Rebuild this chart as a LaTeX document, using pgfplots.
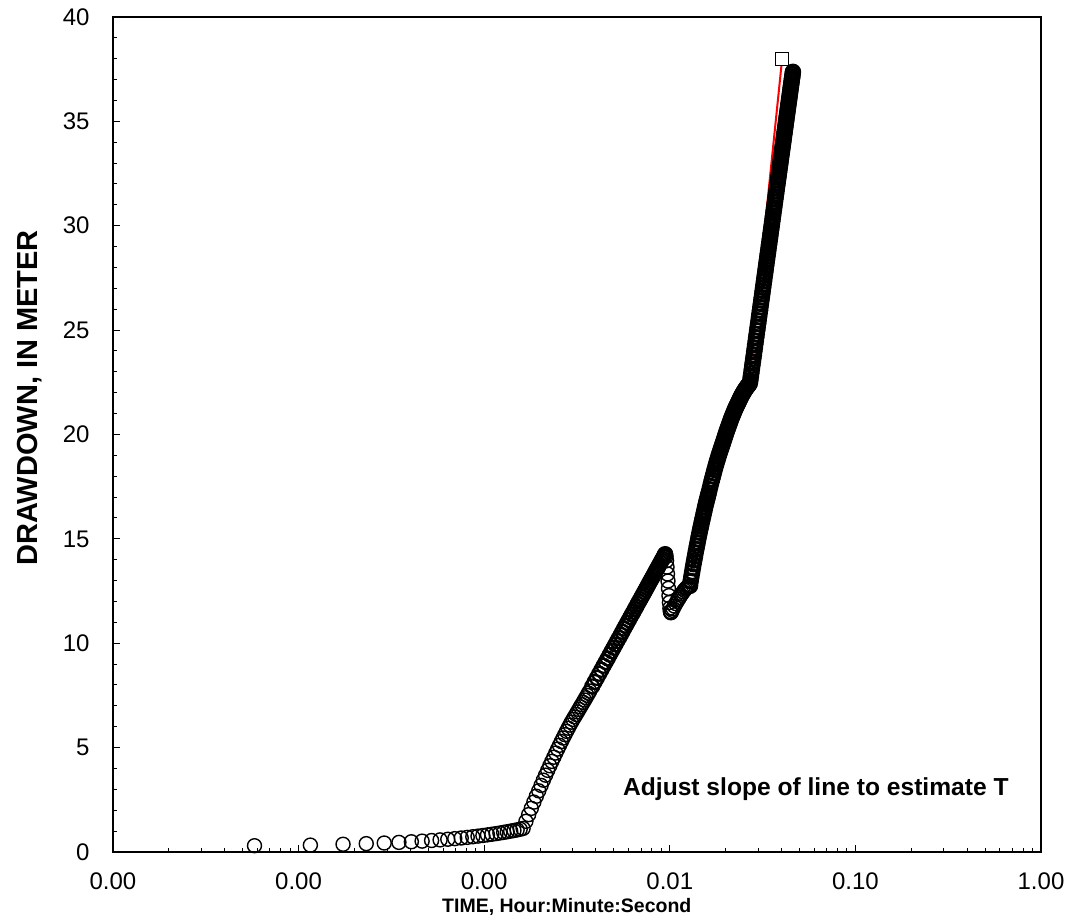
\documentclass[border=0pt]{standalone}
\usepackage{fontspec}
\setmainfont{Liberation Sans}
\usepackage{pgfplots}
\usepackage{pgfplotstable}
\pgfplotsset{compat=1.18}

% drawdown record, time in seconds, drawdown in metres
% early record (sparse on the log scale)
\pgfplotstableread{
t s
5 0.30
10 0.33
15 0.37
20 0.40
25 0.43
30 0.46
35 0.49
40 0.52
45 0.55
50 0.58
55 0.61
60 0.64
65 0.67
70 0.70
75 0.73
80 0.76
85 0.79
90 0.82
95 0.85
100 0.88
105 0.91
110 0.94
115 0.97
120 1.00
125 1.03
130 1.06
135 1.09
140 1.13
145 1.47
150 1.79
155 2.09
160 2.39
165 2.67
170 2.93
175 3.19
180 3.44
185 3.68
190 3.91
195 4.13
200 4.34
205 4.54
210 4.74
215 4.93
220 5.11
225 5.29
230 5.46
235 5.62
240 5.78
245 5.93
250 6.08
255 6.22
260 6.35
265 6.47
270 6.59
275 6.71
280 6.83
285 6.95
290 7.06
295 7.17
300 7.28
305 7.39
310 7.50
315 7.61
320 7.71
}\earlyA

% first rise up to the peak
\pgfplotstableread{
t s
330 7.93
340 8.14
350 8.34
360 8.54
370 8.73
380 8.92
390 9.10
400 9.27
410 9.45
420 9.62
430 9.78
440 9.94
450 10.10
460 10.25
470 10.40
480 10.55
490 10.70
500 10.84
510 10.98
520 11.11
530 11.25
540 11.38
550 11.50
560 11.63
570 11.75
580 11.88
590 12.00
600 12.11
610 12.23
620 12.34
630 12.45
640 12.56
650 12.67
660 12.78
670 12.89
680 12.99
690 13.09
700 13.19
710 13.29
720 13.39
730 13.49
740 13.58
750 13.67
760 13.77
770 13.86
780 13.95
790 14.04
800 14.13
810 14.21
815 14.27
}\riseB

% recovery dip after the peak
\pgfplotstableread{
t s
820 14.27
825 14.15
830 13.95
835 13.65
840 13.32
845 12.98
850 12.63
855 12.28
860 11.95
865 11.68
870 11.52
875 11.46
880 11.48
890 11.58
900 11.66
915 11.78
930 11.90
945 12.00
960 12.10
975 12.20
990 12.30
1005 12.38
1020 12.46
1035 12.54
1050 12.60
1065 12.66
1080 12.70
1095 12.73
}\dipC

% late record (dense on the log scale)
\pgfplotstableread{
t s
1110 12.75
1120 12.98
1130 13.20
1140 13.40
1150 13.60
1160 13.79
1170 13.97
1180 14.15
1190 14.33
1200 14.50
1210 14.67
1220 14.83
1230 14.99
1240 15.15
1250 15.30
1260 15.45
1270 15.59
1280 15.73
1290 15.87
1300 16.00
1310 16.13
1320 16.26
1330 16.39
1340 16.52
1350 16.65
1360 16.76
1370 16.87
1380 16.98
1390 17.09
1400 17.20
1415 17.37
1430 17.53
1445 17.70
1460 17.85
1475 18.00
1490 18.15
1505 18.30
1520 18.43
1535 18.57
1550 18.70
1565 18.82
1580 18.94
1595 19.06
1610 19.17
1625 19.28
1640 19.38
1655 19.49
1670 19.59
1685 19.70
1700 19.80
1715 19.91
1730 20.01
1745 20.12
1760 20.21
1775 20.30
1790 20.39
1805 20.48
1820 20.57
1835 20.66
1850 20.75
1865 20.83
1880 20.90
1895 20.98
1910 21.05
1925 21.13
1940 21.20
1955 21.27
1970 21.33
1985 21.39
2000 21.45
2015 21.51
2030 21.57
2045 21.63
2060 21.69
2075 21.75
2090 21.81
2105 21.86
2120 21.91
2135 21.96
2150 22.00
2165 22.05
2180 22.09
2195 22.14
2210 22.18
2225 22.21
2240 22.25
2255 22.29
2270 22.32
2285 22.35
2300 22.38
2315 22.42
2330 22.45
2345 22.58
2360 22.76
2375 22.93
2390 23.11
2405 23.29
2420 23.46
2435 23.63
2450 23.80
2465 23.97
2480 24.14
2495 24.31
2510 24.48
2525 24.65
2540 24.81
2555 24.98
2570 25.14
2585 25.30
2600 25.46
2615 25.63
2630 25.79
2645 25.94
2660 26.10
2675 26.26
2690 26.42
2705 26.57
2720 26.73
2735 26.88
2750 27.03
2765 27.18
2780 27.34
2795 27.49
2810 27.64
2825 27.78
2840 27.93
2855 28.08
2870 28.23
2885 28.37
2900 28.52
2915 28.66
2930 28.80
2945 28.95
2960 29.09
2975 29.23
2990 29.37
3005 29.51
3020 29.65
3035 29.79
3050 29.93
3065 30.06
3080 30.20
3095 30.34
3110 30.47
3125 30.61
3140 30.74
3155 30.87
3170 31.01
3185 31.14
3200 31.27
3215 31.40
3230 31.53
3245 31.66
3260 31.79
3275 31.92
3290 32.04
3305 32.17
3320 32.30
3335 32.42
3350 32.55
3365 32.67
3380 32.80
3395 32.92
3410 33.04
3425 33.17
3440 33.29
3455 33.41
3470 33.53
3485 33.65
3500 33.77
3515 33.89
3530 34.01
3545 34.13
3560 34.25
3575 34.37
3590 34.48
3605 34.60
3620 34.72
3635 34.83
3650 34.95
3665 35.06
3680 35.18
3695 35.29
3710 35.40
3725 35.52
3740 35.63
3755 35.74
3770 35.85
3785 35.96
3800 36.07
3815 36.18
3830 36.29
3845 36.40
3860 36.51
3875 36.62
3890 36.73
3905 36.83
3920 36.94
3935 37.05
3950 37.15
3965 37.26
3980 37.37
}\lateD

\pgfplotsset{
  obs/.style={only marks, mark=o, mark size=3.5pt,
    mark options={black, line width=#1}},
}

\begin{document}
\begin{tikzpicture}
\useasboundingbox (-56.5pt,-36pt) rectangle (479pt,426pt);
\begin{axis}[
  at={(0,0)}, anchor=south west,
  scale only axis, width=464pt, height=417.5pt,
  xmode=log, xmin=1e-5, xmax=1,
  ymin=0, ymax=40,
  xtick={1e-5,1e-4,1e-3,1e-2,1e-1,1},
  xticklabels={0.00,0.00,0.00,0.01,0.10,1.00},
  minor xtick={2e-5,3e-5,4e-5,5e-5,6e-5,7e-5,8e-5,9e-5,
               2e-4,3e-4,4e-4,5e-4,6e-4,7e-4,8e-4,9e-4,
               2e-3,3e-3,4e-3,5e-3,6e-3,7e-3,8e-3,9e-3,
               2e-2,3e-2,4e-2,5e-2,6e-2,7e-2,8e-2,9e-2,
               0.2,0.3,0.4,0.5,0.6,0.7,0.8,0.9},
  ytick={0,5,...,40},
  minor y tick num=4,
  tick align=inside, tick pos=left,
  major tick length=3.5pt, minor tick length=2pt,
  every tick/.style={black, line width=0.5pt},
  axis line style={line width=1pt},
  /pgf/number format/assume math mode=true,
  tick label style={font=\fontsize{12}{14}\selectfont},
  xticklabel style={anchor=center, yshift=-14.5pt},
  yticklabel style={anchor=east, inner sep=0pt, xshift=-11.5pt},
  xlabel={TIME, Hour:Minute:Second},
  xlabel style={font=\bfseries\fontsize{9.75}{11}\selectfont,
    at={(axis description cs:0.489,0)}, anchor=center, yshift=-27.5pt},
  ylabel={DRAWDOWN, IN METER},
  ylabel style={font=\bfseries\fontsize{14.5}{16}\selectfont,
    at={(axis description cs:0,0.544)}, anchor=center, yshift=41.5pt},
  clip=false,
]
% fitted straight line
\addplot[red, line width=1pt] coordinates {(0.0275,23.6) (0.0403,38.0)};
% measured drawdown
\addplot[obs=0.7pt] table[x expr=\thisrow{t}/86400, y=s] {\earlyA};
\addplot[obs=1.1pt] table[x expr=\thisrow{t}/86400, y=s] {\riseB};
\addplot[obs=0.7pt] table[x expr=\thisrow{t}/86400, y=s] {\dipC};
\addplot[obs=1.3pt] table[x expr=\thisrow{t}/86400, y=s] {\lateD};
% line control point
\addplot[only marks, mark=square*, mark size=3.25pt,
  mark options={fill=white, draw=black, line width=0.6pt}]
  coordinates {(0.0403,38.0)};
\node[anchor=east, inner sep=0pt, font=\bfseries\fontsize{12.3}{14}\selectfont]
  at (rel axis cs:1,0) [xshift=-16pt, yshift=31.5pt]
  {Adjust slope of line to estimate T};
\end{axis}
\end{tikzpicture}
\end{document}
